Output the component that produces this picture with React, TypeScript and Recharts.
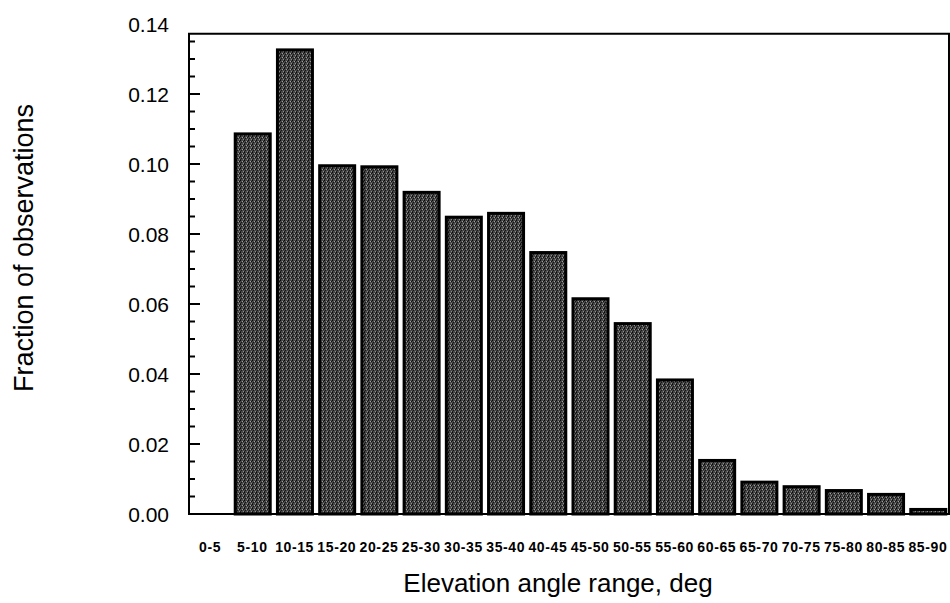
import { BarChart, Bar, XAxis, YAxis, ReferenceArea } from "recharts";

const RANGES = [
  "0-5", "5-10", "10-15", "15-20", "20-25", "25-30", "30-35", "35-40", "40-45",
  "45-50", "50-55", "55-60", "60-65", "65-70", "70-75", "75-80", "80-85", "85-90",
];
const FRACTION = [
  0, 0.1086, 0.1326, 0.0995, 0.0992, 0.0919, 0.0848, 0.0859, 0.0747,
  0.0615, 0.0544, 0.0383, 0.0153, 0.0091, 0.0078, 0.0067, 0.0056, 0.0013,
];
const Y_TICKS = [
  0, 0.005, 0.01, 0.015, 0.02, 0.025, 0.03, 0.035, 0.04, 0.045, 0.05, 0.055, 0.06,
  0.065, 0.07, 0.075, 0.08, 0.085, 0.09, 0.095, 0.1, 0.105, 0.11, 0.115, 0.12,
  0.125, 0.13, 0.135, 0.14,
];
const FRAME_TOP = 0.1372; // scanned box stops a little below 0.14

const data = RANGES.map((range, i) => ({ range, fraction: FRACTION[i] }));

const FONT = "'Liberation Sans', Arial, Helvetica, sans-serif";
const PLOT_LEFT = 189;
const PLOT_RIGHT = 949;

const isMajor = (v: number) => Math.round(v * 1000) % 20 === 0;

function LeftTick({ y, payload }: any) {
  const v = payload.value as number;
  const major = isMajor(v);
  return (
    <g>
      {v <= FRAME_TOP && (
        <line x1={PLOT_LEFT} x2={PLOT_LEFT + (major ? 11 : 6)} y1={y} y2={y} stroke="#000" strokeWidth={2} />
      )}
      {major && (
        <text x={169} y={y + 7.5} textAnchor="end" fontSize={21} fontFamily={FONT} fill="#000">
          {v.toFixed(2)}
        </text>
      )}
    </g>
  );
}

function RightTick({ y, payload }: any) {
  const v = payload.value as number;
  if (v > FRAME_TOP) return <g />;
  return (
    <line x1={PLOT_RIGHT} x2={PLOT_RIGHT - (isMajor(v) ? 10 : 5)} y1={y} y2={y} stroke="#000" strokeWidth={2} />
  );
}

function RangeTick({ x, payload }: any) {
  return (
    <text x={x} y={552} textAnchor="middle" fontSize={14} fontWeight={600} letterSpacing={0.6} fontFamily={FONT} fill="#000">
      {payload.value}
    </text>
  );
}

function StippleBar({ x, y, width, height }: any) {
  if (!height || height <= 0) return <g />;
  return <rect x={x} y={y} width={width} height={height} fill="url(#stipple)" stroke="#000" strokeWidth={3} />;
}

const yTitle = () => (
  <g>
    <defs>
      <pattern id="stipple" width={4} height={4} patternUnits="userSpaceOnUse">
        <rect width={4} height={4} fill="#474747" />
        <rect x={0} y={0} width={1} height={1} fill="#0a0a0a" />
        <rect x={2} y={1} width={1} height={1} fill="#a0a0a0" />
        <rect x={1} y={2} width={1} height={1} fill="#151515" />
        <rect x={3} y={3} width={1} height={1} fill="#8c8c8c" />
        <rect x={3} y={1} width={1} height={1} fill="#111" />
        <rect x={0} y={3} width={1} height={1} fill="#1c1c1c" />
      </pattern>
    </defs>
    <text x={33} y={248} transform="rotate(-90, 33, 248)" textAnchor="middle" fontSize={27} fontFamily={FONT} fill="#000">
      Fraction of observations
    </text>
  </g>
);

const xTitle = () => (
  <text x={558} y={592} textAnchor="middle" fontSize={26} fontFamily={FONT} fill="#000">
    Elevation angle range, deg
  </text>
);

export default function App() {
  return (
    <div style={{ position: "absolute", left: 0, top: 0, background: "#fff" }}>
      <BarChart width={950} height={603} data={data} margin={{ top: 24, right: 0, bottom: 0, left: 0 }}>
        <XAxis dataKey="range" height={89} interval={0} axisLine={false} tickLine={false} tick={RangeTick} label={xTitle} />
        <YAxis
          yAxisId="l"
          width={189}
          domain={[0, 0.14]}
          ticks={Y_TICKS}
          interval={0}
          axisLine={false}
          tickLine={false}
          tick={LeftTick}
          label={yTitle}
        />
        <YAxis
          yAxisId="r"
          orientation="right"
          width={1}
          domain={[0, 0.14]}
          ticks={Y_TICKS}
          interval={0}
          axisLine={false}
          tickLine={false}
          tick={RightTick}
        />
        <Bar yAxisId="l" dataKey="fraction" barSize={35} shape={StippleBar} isAnimationActive={false} />
        <ReferenceArea yAxisId="l" y1={0} y2={FRAME_TOP} fill="none" stroke="#000" strokeWidth={2} ifOverflow="visible" />
      </BarChart>
    </div>
  );
}
